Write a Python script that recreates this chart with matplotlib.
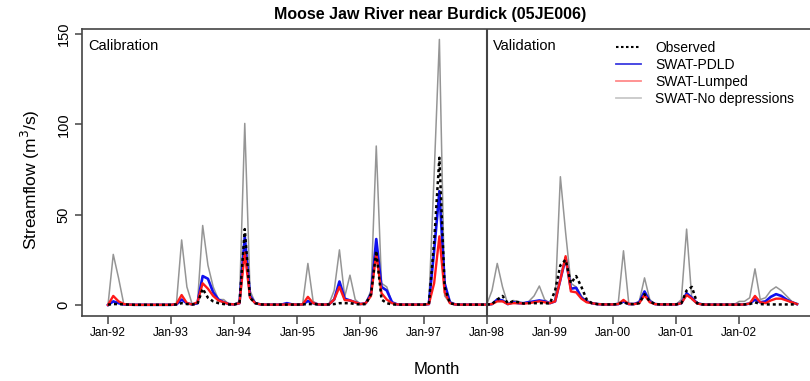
import matplotlib
matplotlib.use("Agg")
import matplotlib.pyplot as plt
from matplotlib.lines import Line2D

plt.rcParams['font.family'] = ['Liberation Sans', 'DejaVu Sans']

# monthly streamflow (m3/s), Jan-92 .. Dec-02, one row per year
observed = [
    0.2, 0.5, 0.5, 0.3, 0.2, 0.1, 0.1, 0.1, 0.1, 0.1, 0.1, 0.1,
    0.1, 0.3, 1.0, 0.5, 0.3, 0.5, 9.0, 4.0, 2.0, 1.0, 0.5, 0.3,
    0.3, 1.0, 42.0, 4.0, 1.0, 0.3, 0.2, 0.2, 0.2, 0.2, 0.2, 0.2,
    0.2, 0.3, 0.5, 0.5, 0.3, 0.2, 0.3, 0.5, 1.0, 1.0, 1.0, 0.5,
    0.3, 0.5, 6.0, 30.0, 3.0, 1.0, 0.3, 0.2, 0.2, 0.2, 0.2, 0.2,
    0.2, 0.5, 35.0, 81.5, 10.0, 1.0, 0.3, 0.2, 0.2, 0.2, 0.2, 0.2,
    0.2, 0.5, 3.0, 5.0, 1.0, 2.0, 1.5, 0.8, 1.0, 1.0, 1.0, 1.0,
    0.8, 8.0, 22.0, 25.0, 12.0, 16.0, 10.0, 3.0, 1.0, 0.5, 0.3, 0.3,
    0.3, 0.5, 1.5, 0.5, 0.5, 1.0, 6.0, 2.0, 0.5, 0.3, 0.3, 0.3,
    0.3, 1.0, 8.0, 10.0, 1.0, 0.3, 0.2, 0.2, 0.2, 0.2, 0.2, 0.2,
    0.2, 0.3, 0.5, 1.5, 0.5, 0.3, 0.3, 0.3, 0.3, 0.3, 0.3, 0.3,
]
swat_pdld = [
    0.0, 2.0, 1.0, 0.3, 0.2, 0.1, 0.1, 0.1, 0.1, 0.1, 0.1, 0.1,
    0.1, 0.3, 3.0, 1.0, 0.3, 1.0, 16.0, 14.5, 7.0, 3.0, 1.5, 0.5,
    0.3, 1.0, 38.0, 5.0, 1.0, 0.3, 0.2, 0.2, 0.2, 0.2, 1.0, 0.3,
    0.2, 0.3, 2.2, 1.0, 0.3, 0.2, 0.3, 3.0, 13.0, 3.5, 2.5, 1.5,
    0.5, 1.0, 6.0, 36.5, 10.0, 8.0, 1.5, 0.3, 0.2, 0.2, 0.2, 0.2,
    0.2, 0.5, 30.0, 63.0, 12.0, 1.5, 0.3, 0.2, 0.2, 0.2, 0.2, 0.2,
    0.2, 0.5, 3.0, 2.5, 0.5, 1.5, 1.0, 1.0, 1.5, 2.0, 2.5, 2.0,
    1.0, 2.0, 14.0, 26.0, 9.0, 9.5, 4.0, 2.0, 1.0, 0.5, 0.3, 0.3,
    0.3, 0.5, 2.0, 0.5, 0.5, 1.5, 7.5, 2.0, 0.5, 0.3, 0.3, 0.3,
    0.3, 1.0, 6.5, 4.0, 1.0, 0.3, 0.2, 0.2, 0.2, 0.2, 0.2, 0.2,
    0.2, 0.3, 0.8, 3.0, 1.5, 2.0, 4.5, 6.0, 5.0, 3.0, 1.5, 0.5,
]
swat_lumped = [
    0.0, 5.0, 2.0, 0.5, 0.2, 0.1, 0.1, 0.1, 0.1, 0.1, 0.1, 0.1,
    0.1, 0.5, 5.5, 1.0, 0.3, 1.5, 12.0, 9.0, 5.0, 2.5, 1.5, 0.5,
    0.3, 1.0, 29.0, 4.0, 1.0, 0.3, 0.2, 0.2, 0.2, 0.2, 0.3, 0.3,
    0.2, 0.3, 4.5, 1.0, 0.3, 0.2, 0.3, 3.0, 10.0, 2.7, 2.5, 1.5,
    0.5, 1.0, 5.0, 28.5, 6.5, 3.0, 1.0, 0.3, 0.2, 0.2, 0.2, 0.2,
    0.2, 0.5, 12.0, 38.0, 7.0, 1.0, 0.3, 0.2, 0.2, 0.2, 0.2, 0.2,
    0.2, 0.5, 2.0, 2.0, 0.5, 1.0, 1.0, 0.8, 1.0, 1.5, 2.0, 1.5,
    1.0, 2.0, 14.0, 27.0, 7.5, 7.0, 3.5, 1.5, 1.0, 0.5, 0.3, 0.3,
    0.3, 0.5, 2.8, 0.5, 0.5, 1.0, 5.5, 1.5, 0.5, 0.3, 0.3, 0.3,
    0.3, 1.0, 5.5, 3.5, 0.8, 0.3, 0.2, 0.2, 0.2, 0.2, 0.2, 0.2,
    0.2, 0.3, 0.8, 5.0, 1.5, 1.0, 2.5, 3.5, 3.5, 2.5, 1.5, 0.5,
]
swat_nodep = [
    0.0, 28.0, 15.0, 0.5, 0.3, 0.2, 0.2, 0.2, 0.2, 0.2, 0.2, 0.2,
    0.2, 0.5, 36.0, 10.0, 0.5, 0.5, 44.0, 22.0, 10.0, 3.0, 3.0, 0.5,
    0.3, 2.0, 100.5, 8.0, 1.0, 0.3, 0.2, 0.2, 0.2, 0.2, 0.3, 0.3,
    0.2, 0.5, 23.0, 2.0, 0.3, 0.2, 0.5, 8.0, 30.5, 4.5, 16.5, 3.0,
    0.5, 1.0, 8.0, 88.0, 12.0, 10.0, 1.0, 0.3, 0.2, 0.2, 0.2, 0.2,
    0.2, 1.0, 72.0, 147.0, 5.0, 1.0, 0.3, 0.2, 0.2, 0.2, 0.2, 0.2,
    0.2, 8.0, 23.0, 10.0, 0.5, 2.5, 2.0, 1.0, 2.0, 5.0, 10.5, 3.0,
    1.0, 2.0, 71.0, 40.0, 12.0, 10.0, 5.0, 2.0, 1.0, 0.5, 0.3, 0.3,
    0.3, 1.0, 30.0, 1.0, 0.5, 2.0, 15.0, 3.0, 0.5, 0.3, 0.3, 0.3,
    0.3, 3.0, 42.0, 3.0, 0.5, 0.3, 0.2, 0.2, 0.2, 0.2, 0.2, 0.2,
    2.0, 2.0, 4.0, 20.0, 3.0, 4.0, 8.0, 10.0, 8.0, 5.0, 2.0, 0.5,
]
year_labels = ["Jan-92", "Jan-93", "Jan-94", "Jan-95", "Jan-96", "Jan-97",
               "Jan-98", "Jan-99", "Jan-00", "Jan-01", "Jan-02"]
months = list(range(len(observed)))
split_month = 72  # Jan-98, start of validation

W, H = 810, 381
fig = plt.figure(figsize=(W / 100, H / 100), dpi=100)
# axes placed in pixels; right edge runs past the image like the original crop
ax = fig.add_axes([81.7 / W, (H - 315.6) / H, 744.3 / W, 286.8 / H])

frame = "#444444"
ax.plot(months, swat_nodep, color="#959595", lw=1.1)
ax.plot(months, swat_pdld, color="#1010ee", lw=1.9)
ax.plot(months, swat_lumped, color="#ff1a1a", lw=1.7)
ax.plot(months, observed, color="black", lw=1.8, linestyle=(0, (1.2, 1.2)))
ax.axvline(split_month, color=frame, lw=1.5)

ax.set_xlim(-5, 136.5)
ax.set_ylim(-5.88, 152.88)
for s in ax.spines.values():
    s.set_color(frame)
    s.set_linewidth(1.2)

ax.set_xticks(range(0, 132, 12))
ax.set_xticklabels(year_labels)
ax.tick_params(axis="x", length=6, width=1.1, color=frame, pad=2, labelsize=8.5)
ax.set_yticks([0, 50, 100, 150])
ax.set_yticklabels(["0", "50", "100", "150"], rotation=90, va="center")
ax.tick_params(axis="y", length=5, width=1.1, color=frame, pad=3, labelsize=10.5)

fig.text(430 / W, (H - 14) / H, "Moose Jaw River near Burdick (05JE006)",
         ha="center", va="center", fontsize=11.5, fontweight="bold")
fig.text(437 / W, (H - 370) / H, "Month", ha="center", va="center", fontsize=12)
fig.text(30 / W, (H - 180) / H, "Streamflow (m$^3$/s)", rotation=90,
         ha="center", va="center", fontsize=12.5)
fig.text(88 / W, (H - 46) / H, "Calibration", ha="left", va="center", fontsize=10.5)
fig.text(493 / W, (H - 46) / H, "Validation", ha="left", va="center", fontsize=10.5)

handles = [
    Line2D([], [], color="black", lw=1.5, linestyle=(0, (1.2, 1.2))),
    Line2D([], [], color="#3a3ae0", lw=1.3),
    Line2D([], [], color="#ff8a8a", lw=1.3),
    Line2D([], [], color="#c8c8c8", lw=1.3),
]
labels = ["Observed", "SWAT-PDLD", "SWAT-Lumped", "SWAT-No depressions"]
ax.legend(handles, labels, loc="upper left", bbox_to_anchor=(616 / W, (H - 41) / H),
          bbox_transform=fig.transFigure, frameon=False, fontsize=10,
          handlelength=1.8, handletextpad=1.0, labelspacing=0.22,
          borderpad=0, borderaxespad=0)

fig.savefig("out.png", dpi=100)
